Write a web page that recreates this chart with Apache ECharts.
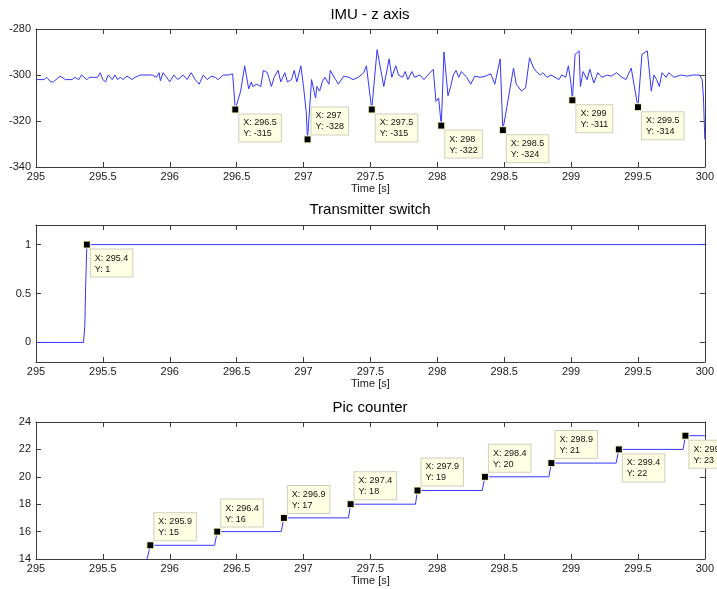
<!DOCTYPE html>
<html>
<head>
<meta charset="utf-8">
<title>IMU / Transmitter switch / Pic counter</title>
<script src="https://cdn.jsdelivr.net/npm/echarts@6/dist/echarts.min.js"></script>
<style>
  html, body { margin: 0; padding: 0; background: #fff; }
  #chart { width: 717px; height: 589px; }
</style>
</head>
<body>
<div id="chart"></div>
<script>
// ---- IMU z-axis samples: time [s] and value ----
const imuT = [
  295.00, 295.06, 295.08, 295.11, 295.13, 295.18, 295.22, 295.27, 295.29, 295.32,
  295.34, 295.38, 295.40, 295.43, 295.46, 295.48, 295.50, 295.52, 295.54, 295.57,
  295.59, 295.61, 295.63, 295.65, 295.68, 295.72, 295.74, 295.78, 295.87, 295.90,
  295.92, 295.93, 295.95, 295.97, 296.00, 296.03, 296.06, 296.10, 296.13, 296.16,
  296.19, 296.22, 296.25, 296.28, 296.31, 296.34, 296.36, 296.40, 296.44, 296.47,
  296.49, 296.53, 296.56, 296.59, 296.61, 296.62, 296.65, 296.68, 296.70, 296.73,
  296.76, 296.78, 296.81, 296.83, 296.86, 296.88, 296.91, 296.93, 296.95, 296.98,
  297.00, 297.02, 297.03, 297.06, 297.09, 297.10, 297.12, 297.14, 297.16, 297.19,
  297.20, 297.24, 297.26, 297.30, 297.34, 297.37, 297.41, 297.43, 297.45, 297.47,
  297.51, 297.55, 297.60, 297.64, 297.66, 297.69, 297.71, 297.74, 297.76, 297.78,
  297.81, 297.83, 297.87, 297.90, 297.93, 297.97, 297.99, 298.01, 298.03, 298.05,
  298.08, 298.10, 298.12, 298.14, 298.16, 298.18, 298.22, 298.25, 298.28, 298.32,
  298.36, 298.40, 298.43, 298.47, 298.49, 298.52, 298.54, 298.57, 298.59, 298.63,
  298.66, 298.69, 298.72, 298.74, 298.77, 298.79, 298.82, 298.85, 298.88, 298.91,
  298.93, 298.96, 298.98, 299.00, 299.01, 299.03, 299.06, 299.07, 299.09, 299.12,
  299.14, 299.17, 299.20, 299.23, 299.27, 299.30, 299.34, 299.38, 299.41, 299.45,
  299.47, 299.50, 299.53, 299.57, 299.60, 299.62, 299.64, 299.66, 299.68, 299.71,
  299.73, 299.77, 299.82, 299.87, 299.91, 299.96, 299.98, 299.99, 300.00
];
const imuV = [
  -302, -302, -301, -303, -303, -300.5, -302, -302, -301, -302,
  -300, -302, -301, -301, -301, -299, -302, -303, -300, -302,
  -300, -302, -301, -302, -300.5, -302, -301, -300, -300, -301,
  -299, -302.5, -299, -300.5, -303, -300, -302, -300, -302, -299,
  -302, -304, -300, -302, -300.5, -301, -302, -300, -300, -299.5,
  -315, -307, -296, -306, -303, -305, -304, -305, -298, -299,
  -305, -301, -298, -303, -299, -303, -302, -298, -303, -296,
  -305, -316, -328, -302, -310, -305, -307, -303, -301, -304,
  -298, -302, -304, -300.5, -301, -302, -301, -300, -299, -296,
  -315, -289, -305, -293, -301, -296, -300, -301, -298.5, -302,
  -298.5, -301, -300, -302, -300, -297.5, -311.5, -310, -322, -290,
  -309, -305, -300, -298, -301, -298.5, -301, -304, -300.5, -301,
  -300.5, -299.5, -304, -293, -324, -314, -307, -297, -304, -307,
  -305.5, -292.5, -297, -298.5, -300, -299, -301, -300, -301, -302,
  -300, -301, -296, -304, -311, -291, -289.5, -305, -298.5, -302,
  -297.5, -303.5, -299, -301, -300, -300.5, -299, -301, -302, -297,
  -304, -314, -291, -289.5, -307, -300, -302, -305, -299, -301,
  -299, -301, -300, -300.5, -300, -300, -302, -310, -328
];
const imuTipT = [296.49, 297.03, 297.51, 298.03, 298.49, 299.01, 299.50];
const imuTipV = [-315, -328, -315, -322, -324, -311, -314];

// ---- Transmitter switch ----
const swT = [295.00, 295.355, 295.365, 295.37, 295.38, 300.00];
const swV = [0, 0, 0.17, 0.5, 1, 1];
const swTipT = [295.38];
const swTipV = [1];

// ---- Pic counter ----
const picT = [295.83, 295.855, 296.335, 296.355, 296.833, 296.853, 297.336, 297.352,
              297.837, 297.852, 298.336, 298.356, 298.834, 298.853, 299.337, 299.357,
              299.838, 299.855, 300.00];
const picV = [14, 15, 15, 16, 16, 17, 17, 18, 18, 19, 19, 20, 20, 21, 21, 22, 22, 23, 23];
const picTipT = [295.855, 296.355, 296.853, 297.352, 297.852, 298.356, 298.853, 299.357, 299.855];
const picTipV = [15, 16, 17, 18, 19, 20, 21, 22, 23];

// ---- axes / titles ----
const titles = ['IMU - z axis', 'Transmitter switch', 'Pic counter'];
const xLabel = 'Time [s]';
const xTicks = { min: 295, max: 300, interval: 0.5 };
const yRanges = [
  { min: -340, max: -280, interval: 20 },
  { min: -0.2, max: 1.2, custom: [0, 0.5, 1] },
  { min: 14, max: 24, interval: 2 }
];

// which side of the marker each data tip box sits on
const imuTipSide = ['below', 'above', 'below', 'below', 'below', 'below', 'below'];
const swTipSide = ['below'];
const picTipSide = ['above', 'above', 'above', 'above', 'above', 'above', 'above', 'below', 'below'];

// ---------------------------------------------------------------
const FONT = 'Liberation Sans, Arial, sans-serif';
const AX = '#3c3c3c';
const LINE = '#3535ff';
const grids = [
  { left: 36, right: 12, top: 29, height: 138 },
  { left: 36, right: 12, top: 225, height: 137 },
  { left: 36, right: 12, top: 422, height: 137 }
];
const titleTops = [7, 202, 400];

const fmt = v => String(parseFloat(Number(v).toPrecision(4)));

const xAxes = [], yAxes = [], series = [];
grids.forEach((g, i) => {
  const tick = { show: true, inside: true, length: 5, lineStyle: { color: AX } };
  const line = { show: true, onZero: false, lineStyle: { color: AX, width: 1 } };
  xAxes.push({
    type: 'value', gridIndex: i, position: 'bottom',
    min: xTicks.min, max: xTicks.max, interval: xTicks.interval,
    axisLine: line, axisTick: tick, splitLine: { show: false },
    axisLabel: { color: '#1a1a1a', fontSize: 11, fontFamily: FONT, margin: 4,
                 formatter: v => fmt(v) },
    name: xLabel, nameLocation: 'middle', nameGap: 16,
    nameTextStyle: { color: '#1a1a1a', fontSize: 11, fontFamily: FONT }
  });
  xAxes.push({
    type: 'value', gridIndex: i, position: 'top',
    min: xTicks.min, max: xTicks.max, interval: xTicks.interval,
    axisLine: line, axisTick: tick, splitLine: { show: false },
    axisLabel: { show: false }
  });
  const r = yRanges[i];
  const yBase = { type: 'value', gridIndex: i, min: r.min, max: r.max, splitLine: { show: false } };
  if (r.interval) yBase.interval = r.interval;
  const yTick = Object.assign({}, tick, r.custom ? { customValues: r.custom } : {});
  const yLab = { color: '#1a1a1a', fontSize: 11, fontFamily: FONT, margin: 5, formatter: v => fmt(v) };
  if (r.custom) yLab.customValues = r.custom;
  yAxes.push(Object.assign({}, yBase, { position: 'left', axisLine: line, axisTick: yTick, axisLabel: yLab }));
  yAxes.push(Object.assign({}, yBase, { position: 'right', axisLine: line, axisTick: yTick, axisLabel: { show: false } }));
});

function lineSeries(i, ts, vs) {
  return {
    type: 'line', xAxisIndex: 2 * i, yAxisIndex: 2 * i,
    data: ts.map((t, k) => [t, vs[k]]),
    showSymbol: false, symbol: 'none', animation: false,
    lineStyle: { color: LINE, width: 1 }, z: 2
  };
}

function tipSeries(i, ts, vs, sides) {
  return {
    type: 'scatter', xAxisIndex: 2 * i, yAxisIndex: 2 * i, animation: false,
    symbol: 'rect', symbolSize: 7, z: 5,
    itemStyle: { color: '#000', borderColor: '#ffffcc', borderWidth: 1, opacity: 1 },
    data: ts.map((t, k) => ({
      value: [t, vs[k]],
      label: sides[k] === 'above'
        ? { position: [8, -1], verticalAlign: 'bottom' }
        : { position: [8, 9], verticalAlign: 'top' }
    })),
    label: {
      show: true, align: 'left',
      formatter: p => 'X: ' + fmt(p.value[0]) + '\nY: ' + fmt(p.value[1]),
      fontSize: 9, lineHeight: 11, fontFamily: FONT, color: '#111',
      backgroundColor: '#ffffe4', borderColor: '#cfcfbd', borderWidth: 1,
      padding: [3, 4, 2, 4]
    },
    emphasis: { disabled: true }
  };
}

series.push(lineSeries(0, imuT, imuV));
series.push(tipSeries(0, imuTipT, imuTipV, imuTipSide));
series.push(lineSeries(1, swT, swV));
series.push(tipSeries(1, swTipT, swTipV, swTipSide));
series.push(lineSeries(2, picT, picV));
series.push(tipSeries(2, picTipT, picTipV, picTipSide));

const chart = echarts.init(document.getElementById('chart'), null, { renderer: 'canvas' });
chart.setOption({
  animation: false,
  backgroundColor: '#fff',
  title: titles.map((t, i) => ({
    text: t, left: 370, top: titleTops[i], textAlign: 'center', padding: 0,
    textStyle: { fontSize: 15, fontWeight: 'normal', color: '#000', fontFamily: FONT }
  })),
  grid: grids,
  xAxis: xAxes,
  yAxis: yAxes,
  series: series
});
</script>
</body>
</html>
